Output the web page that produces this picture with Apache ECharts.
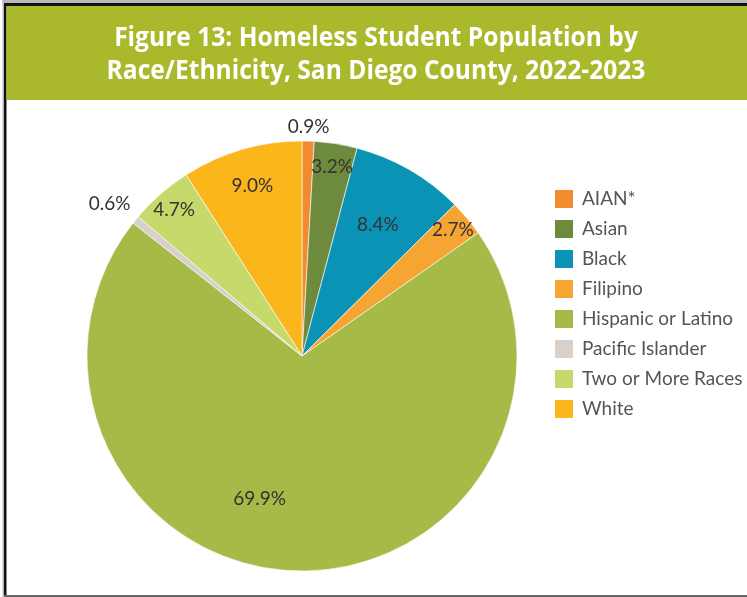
<!DOCTYPE html>
<html>
<head>
<meta charset="utf-8">
<script src="https://cdn.jsdelivr.net/npm/echarts@6/dist/echarts.min.js"></script>
<style>
  html, body { margin: 0; padding: 0; background: #fff; }
  #chart { width: 747px; height: 597px; }
</style>
</head>
<body>
<div id="chart"></div>
<script>
// Homeless student population by race/ethnicity, San Diego County 2022-2023
const categories = ['AIAN*', 'Asian', 'Black', 'Filipino', 'Hispanic or Latino',
                    'Pacific Islander', 'Two or More Races', 'White'];
const shares = [0.9, 3.2, 8.4, 2.7, 69.9, 0.6, 4.7, 9.0];
const titleLines = ['Figure 13: Homeless Student Population by',
                    'Race/Ethnicity, San Diego County, 2022-2023'];

const sliceColors = ['#f28b30', '#6e8b3d', '#0b93b5', '#f6a533', '#a5ba47',
                     '#d9d0c9', '#c6da6b', '#fbb61c'];

// pie geometry
const CX = 302, CY = 356, R = 215;

// radius (as a fraction of R) at which each slice's percentage is printed
const labelRadius = {
  'AIAN*': 1.05, 'Asian': 0.875, 'Black': 0.69, 'Filipino': 0.9,
  'Hispanic or Latino': 0.69, 'Pacific Islander': 1.13,
  'Two or More Races': 0.89, 'White': 0.81
};
const labelOffset = { 'Hispanic or Latino': [-38, -8], 'Pacific Islander': [-2, 4] };

const labelFont = { fontFamily: 'Lato, "Open Sans", sans-serif', fontSize: 19, color: '#333' };

const pieData = categories.map((name, i) => ({
  name, value: shares[i], itemStyle: { color: sliceColors[i] }
}));

// one thin transparent ring per label radius, used only to place the labels
const rings = [...new Set(Object.values(labelRadius))];
const labelSeries = rings.map(f => ({
  type: 'pie',
  silent: true,
  legendHoverLink: false,
  center: [CX, CY],
  radius: [R * f - 0.5, R * f + 0.5],
  startAngle: 90,
  animation: false,
  itemStyle: { color: 'transparent', borderWidth: 0 },
  emphasis: { disabled: true },
  labelLine: { show: false },
  data: categories.map((name, i) => ({
    name, value: shares[i],
    label: {
      show: labelRadius[name] === f,
      position: 'inside',
      formatter: shares[i].toFixed(1) + '%',
      offset: labelOffset[name] || [0, 0],
      ...labelFont
    }
  }))
}));

const chart = echarts.init(document.getElementById('chart'), null, { renderer: 'canvas' });
chart.setOption({
  backgroundColor: '#fff',
  animation: false,
  graphic: [
    // frame
    { type: 'rect', shape: { x: 2.5, y: 0, width: 745, height: 3 }, style: { fill: '#b8b8b8' } },
    { type: 'rect', shape: { x: 2.5, y: 0, width: 1.5, height: 597 }, style: { fill: '#b8b8b8' } },
    { type: 'rect', shape: { x: 4, y: 3, width: 743, height: 3 }, style: { fill: '#111' } },
    { type: 'rect', shape: { x: 4, y: 3, width: 2.5, height: 594 }, style: { fill: '#111' } },
    { type: 'rect', shape: { x: 4, y: 595, width: 743, height: 2 }, style: { fill: '#666' } },
    // title banner
    { type: 'rect', shape: { x: 6.5, y: 6, width: 741, height: 94 }, style: { fill: '#a9b92b' } },
    {
      type: 'text', x: 376, y: 22, scaleX: 0.945, originX: 0,
      style: {
        text: titleLines.join('\n'), fill: '#fff', align: 'center',
        font: 'bold 26px "Open Sans", sans-serif',
        lineHeight: 33
      }
    }
  ],
  legend: {
    orient: 'vertical',
    left: 553, top: 188, padding: 0,
    itemWidth: 20, itemHeight: 20, itemGap: 8,
    icon: 'rect',
    data: categories,
    textStyle: { fontFamily: 'Lato, "Open Sans", sans-serif', fontSize: 19, lineHeight: 20, color: '#555', padding: [0, 0, 0, 3] }
  },
  series: [{
    type: 'pie',
    center: [CX, CY],
    radius: R,
    startAngle: 90,
    clockwise: true,
    itemStyle: { borderColor: '#fff', borderWidth: 0.6 },
    label: { show: false },
    labelLine: { show: false },
    emphasis: { scale: false },
    data: pieData
  }, ...labelSeries]
});
</script>
</body>
</html>
